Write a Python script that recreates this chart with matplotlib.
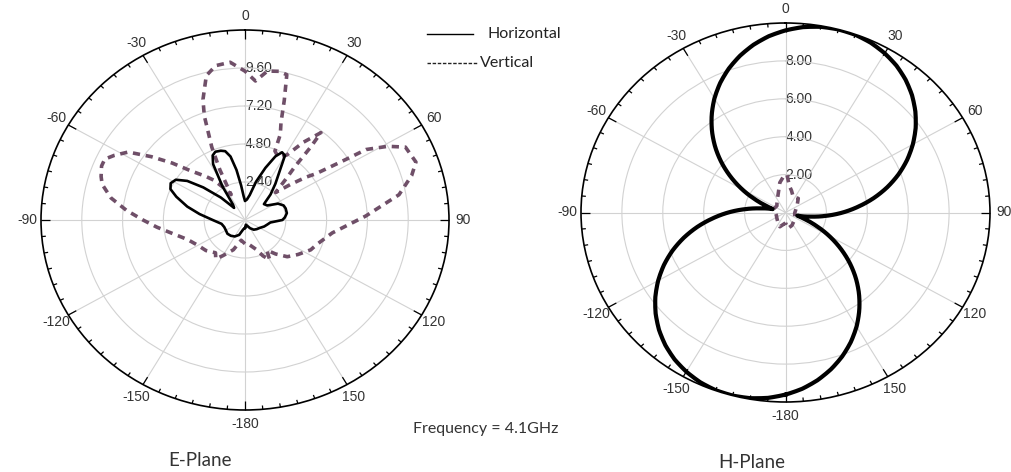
import numpy as np
import matplotlib
matplotlib.use("Agg")
import matplotlib.pyplot as plt
from matplotlib.lines import Line2D

# ---------------- data (angle in degrees, clockwise from top; gain) ----------------
# E-plane, Horizontal (solid black)
e_h_ang = [-180, -170, -160, -150, -140, -130, -120, -110, -100, -90, -82, -76, -70, -66,
           -62, -58, -54, -50, -45, -40, -36, -32, -28, -25, -22, -18, -15, -12, -9, -6,
           -3, 0, 5, 10, 15, 20, 24, 27, 30, 33, 38, 43, 48, 55, 62, 68, 73, 80, 86, 90,
           96, 102, 110, 120, 130, 140, 150, 160, 170, 180]
e_h_r = [0.5, 0.6, 1.0, 1.2, 1.3, 1.35, 1.3, 1.3, 1.4, 1.9, 2.7, 3.5, 4.3, 4.8,
         4.95, 4.8, 4.2, 3.2, 2.0, 1.0, 1.2, 2.5, 4.0, 4.5, 4.65, 4.6, 4.5, 4.1, 3.2, 2.2,
         1.5, 1.2, 1.3, 1.6, 2.5, 3.5, 4.4, 4.8, 4.7, 3.8, 2.9, 2.2, 1.5, 1.6, 2.2, 2.45,
         2.5, 2.5, 2.35, 2.2, 1.5, 1.35, 1.2, 1.0, 0.9, 0.8, 0.6, 0.4, 0.3, 0.5]

# E-plane, Vertical (dashed)
e_v_ang = [-180, -170, -160, -150, -145, -140, -130, -120, -110, -100, -95, -90, -85, -80,
           -75, -72, -68, -65, -62, -58, -54, -50, -46, -40, -36, -30, -27, -25, -23, -20,
           -18, -14, -10, -5, 0, 4, 8, 12, 15, 17, 19, 21, 22, 25, 28, 31, 35, 39, 40, 41,
           43, 46, 50, 53, 55, 57, 58, 61, 64, 70, 74, 80, 88, 99, 110, 116, 125, 133,
           140, 146, 150, 155, 160, 170, 180]
e_v_r = [1.5, 1.3, 2.0, 2.6, 3.0, 2.7, 3.0, 3.2, 3.6, 4.5, 5.2, 6.0, 7.0, 8.0,
         8.7, 8.9, 9.1, 9.1, 8.7, 8.1, 6.8, 5.6, 4.5, 3.6, 3.1, 2.2, 1.8, 3.5, 5.0, 7.0,
         8.0, 9.4, 9.9, 10.0, 9.4, 8.8, 9.5, 9.6, 9.5, 7.9, 6.5, 5.8, 4.7, 4.5, 4.5, 4.8,
         6.0, 7.1, 6.0, 4.5, 3.5, 2.5, 3.5, 4.5, 5.1, 6.8, 8.4, 9.6, 10.5, 10.7, 10.2,
         9.2, 7.1, 5.2, 4.5, 4.3, 3.8, 3.4, 2.8, 2.3, 2.9, 2.5, 2.0, 1.6, 1.5]

# H-plane, Horizontal (solid black)
h_h_ang = [-180, -175, -170, -165, -160, -155, -150, -145, -140, -135, -130, -125, -120,
           -115, -110, -105, -100, -95, -90, -85, -80, -74, -70, -65, -60, -55, -50, -45,
           -40, -35, -30, -25, -20, -15, -10, -5, 0, 5, 10, 15, 20, 25, 30, 35, 40, 45, 50,
           55, 60, 65, 70, 75, 80, 85, 90, 95, 100, 106, 110, 115, 120, 125, 130, 135, 140,
           145, 150, 155, 160, 165, 170, 175, 180]
h_h_r = [9.61, 9.82, 9.95, 10.0, 9.98, 9.88, 9.70, 9.46, 9.14, 8.75, 8.29, 7.77, 7.19,
         6.56, 5.88, 5.15, 4.38, 3.58, 2.80, 2.0, 1.25, 0.65, 0.95, 1.65, 2.45, 3.26, 4.07, 4.85,
         5.59, 6.29, 6.95, 7.55, 8.09, 8.57, 8.99, 9.34, 9.61, 9.82, 9.95, 10.0, 9.98, 9.88,
         9.70, 9.46, 9.14, 8.75, 8.29, 7.77, 7.19, 6.56, 5.88, 5.15, 4.38, 3.58, 2.80, 2.0,
         1.25, 0.6, 0.95, 1.65, 2.45, 3.26, 4.07, 4.85, 5.59, 6.29, 6.95, 7.55, 8.09, 8.57,
         8.99, 9.34, 9.61]

# H-plane, Vertical (dashed)
h_v_ang = [-180, -160, -140, -120, -110, -90, -70, -50, -40, -25, -10, -3, 2, 8, 14, 25,
           40, 55, 78, 95, 115, 135, 155, 172, 180]
h_v_r = [0.55, 0.8, 0.6, 0.5, 0.47, 0.5, 0.6, 0.55, 0.65, 0.9, 1.6, 1.9, 2.0, 1.4, 1.2,
         0.9, 0.97, 0.7, 0.5, 0.45, 0.5, 0.6, 0.75, 0.85, 0.55]

e_rings = [2.4, 4.8, 7.2, 9.6]
e_rmax = 12.0
h_rings = [2.0, 4.0, 6.0, 8.0]
h_rmax = 10.0
theta_tick_deg = list(range(0, 360, 30))
theta_tick_labels = ["0", "30", "60", "90", "120", "150", "-180", "-150", "-120", "-90", "-60", "-30"]

series_names = ["Horizontal", "Vertical"]
freq_text = "Frequency = 4.1GHz"

# ---------------- style ----------------
PURPLE = "#6f4f68"
GRID = "#d2d2d2"
NUMFONT = "Liberation Sans"
TXTFONT = "Lato"

W, H = 1012, 472
fig = plt.figure(figsize=(W / 100, H / 100), dpi=100)


def px_axes(x0, y0, x1, y1):
    return [x0 / W, 1 - y1 / H, (x1 - x0) / W, (y1 - y0) / H]


def setup(ax, rings, rmax):
    ax.set_aspect("auto")
    ax.set_theta_zero_location("N")
    ax.set_theta_direction(-1)
    ax.set_ylim(0, rmax)
    ax.set_yticks(rings)
    ax.set_yticklabels([])
    ax.set_xticks(np.deg2rad(theta_tick_deg))
    ax.set_xticklabels(theta_tick_labels, fontfamily=NUMFONT, fontsize=10, color="#333333")
    ax.tick_params(axis="x", which="major", direction="in", length=0, pad=3)
    ax.grid(True, color=GRID, linewidth=0.8)
    ax.spines["polar"].set_linewidth(1.2)
    ax.spines["polar"].set_color("black")
    # tick marks on the rim (every 5 deg, longer every 30 deg)
    for a in range(0, 360, 5):
        ln = 0.045 if a % 30 == 0 else 0.02
        t = np.deg2rad(a)
        ax.plot([t, t], [rmax, rmax * (1 - ln)], color="black", lw=0.9,
                solid_capstyle="butt", zorder=5, clip_on=False)
    for rv in rings:
        ax.text(0.0, rv, f"{rv:.2f}", ha="left", va="center", fontfamily=NUMFONT,
                fontsize=10, color="#333333", zorder=1)


def smooth(line, steps=8):
    line.get_path()._interpolation_steps = steps
    line.recache_always = True
    return line


axE = fig.add_axes(px_axes(41, 30, 449, 410), projection="polar")
setup(axE, e_rings, e_rmax)
axE.plot(np.deg2rad(e_v_ang), e_v_r, color=PURPLE, lw=2.6, linestyle=(0, (2.0, 1.6)), zorder=3)
axE.plot(np.deg2rad(e_h_ang), e_h_r, color="black", lw=1.9, zorder=4)

axH = fig.add_axes(px_axes(581, 23, 990, 402), projection="polar")
setup(axH, h_rings, h_rmax)
axH.plot(np.deg2rad(h_v_ang), h_v_r, color=PURPLE, lw=2.6, linestyle=(0, (2.0, 1.6)), zorder=3)
(lh,) = axH.plot(np.deg2rad(h_h_ang), h_h_r, color="black", lw=3.0, zorder=4)
smooth(lh)

# legend (drawn in figure pixels)
fig.add_artist(Line2D([427 / W, 473 / W], [1 - 34 / H, 1 - 34 / H], color="black", lw=1.0,
                      transform=fig.transFigure))
fig.add_artist(Line2D([427 / W, 477 / W], [1 - 63 / H, 1 - 63 / H], color="#222222", lw=1.0,
                      linestyle=(0, (2.5, 1.2)), transform=fig.transFigure))
fig.text(488 / W, 1 - 34 / H, series_names[0], ha="left", va="center", fontfamily=TXTFONT,
         fontsize=11.5, color="#222222")
fig.text(480 / W, 1 - 63 / H, series_names[1], ha="left", va="center", fontfamily=TXTFONT,
         fontsize=11.5, color="#222222")

fig.text(413 / W, 1 - 429 / H, freq_text, ha="left", va="center", fontfamily=TXTFONT,
         fontsize=11.5, color="#333333")
fig.text(200 / W, 1 - 460 / H, "E-Plane", ha="center", va="center", fontfamily=TXTFONT,
         fontsize=13.5, color="#333333")
fig.text(752 / W, 1 - 463 / H, "H-Plane", ha="center", va="center", fontfamily=TXTFONT,
         fontsize=13.5, color="#333333")

fig.savefig("out.png", dpi=100)
